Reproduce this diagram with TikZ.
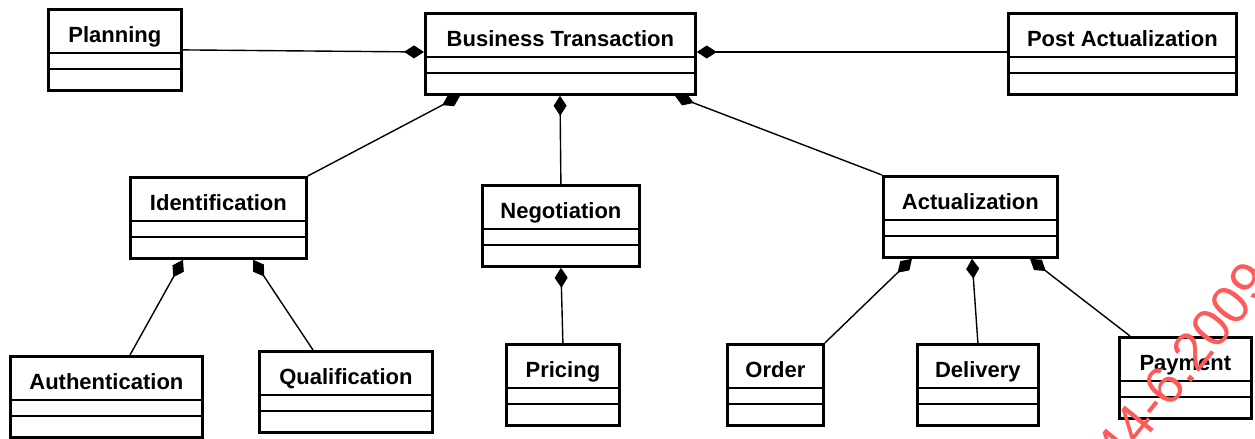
\documentclass[tikz,border=0pt]{standalone}
\usepackage{fontspec}
\setmainfont{Liberation Sans}
\usepackage{xcolor}
\definecolor{wmred}{HTML}{FF5A5A}
\usepackage{tikz}
\usetikzlibrary{arrows.meta,positioning,calc}

\begin{document}
\begin{tikzpicture}[x=0.5pt, y=-0.5pt,
    cls/.style={rectangle, draw=black, line width=1.4pt, anchor=north west, inner xsep=0pt, inner ysep=2pt, minimum height=40.5pt, text height=14.5pt, text depth=22pt, font=\fontsize{11}{13}\selectfont\bfseries},
    part/.style={line width=0.8pt},
    comp/.style={{Diamond[length=10pt,width=6.5pt]}-, line width=0.7pt},
  ]
    \useasboundingbox (0,0) rectangle (1255,439);
    % top row
    \node[cls, minimum width=66.5pt] (planning) at (47,8) {Planning};
    \node[cls, minimum width=135pt] (bt) at (424,12) {Business Transaction};
    \node[cls, minimum width=114pt] (post) at (1007,12) {Post Actualization};
    % middle row
    \node[cls, minimum width=88pt] (ident) at (129,176) {Identification};
    \node[cls, minimum width=78.5pt] (nego) at (481,184) {Negotiation};
    \node[cls, minimum width=87pt] (actu) at (882,175) {Actualization};
    % bottom row
    \node[cls, minimum width=96pt] (auth) at (9,355) {Authentication};
    \node[cls, minimum width=86.5pt] (qual) at (258,350) {Qualification};
    \node[cls, minimum width=56.5pt] (pricing) at (505,343) {Pricing};
    \node[cls, minimum width=48pt] (order) at (726,343) {Order};
    \node[cls, minimum width=60.5pt] (delivery) at (916,343) {Delivery};
    \node[cls, minimum width=66pt] (payment) at (1118,336) {Payment};
    % compartments
    \foreach \n in {planning,bt,post,ident,nego,actu,auth,qual,pricing,order,delivery,payment} {
      \draw[part] ($(\n.north west)+(0,45)$) -- ($(\n.north east)+(0,45)$);
      \draw[part] ($(\n.north west)+(0,61)$) -- ($(\n.north east)+(0,61)$);
    }
    % compositions
    \draw[comp] ($(bt.north west)+(0,40)$) -- (planning.east);
    \draw[comp] ($(bt.north east)+(0,40)$) -- ($(post.north west)+(0,40)$);
    \draw[comp] ($(bt.south west)+(36,0)$) -- (ident.north east);
    \draw[comp] ($(bt.south west)+(136,0)$) -- (nego.north);
    \draw[comp] ($(bt.south west)+(251,0)$) -- (actu.north west);
    \draw[comp] ($(ident.south west)+(54,0)$) -- ($(auth.north west)+(121,0)$);
    \draw[comp] ($(ident.south west)+(124,0)$) -- ($(qual.north west)+(55,0)$);
    \draw[comp] (nego.south) -- (pricing.north);
    \draw[comp] ($(actu.south west)+(30,0)$) -- (order.north east);
    \draw[comp] ($(actu.south west)+(90,0)$) -- (delivery.north);
    \draw[comp] ($(actu.south west)+(148,0)$) -- ($(payment.north west)+(12,0)$);
    % watermark
    \begin{scope}
      \clip (0,0) rectangle (1255,439);
      \node[font=\fontsize{27}{27}\selectfont, text=wmred, rotate=51] (wm) at (1173,376) {944-6.2009};
    \end{scope}
\end{tikzpicture}
\end{document}
